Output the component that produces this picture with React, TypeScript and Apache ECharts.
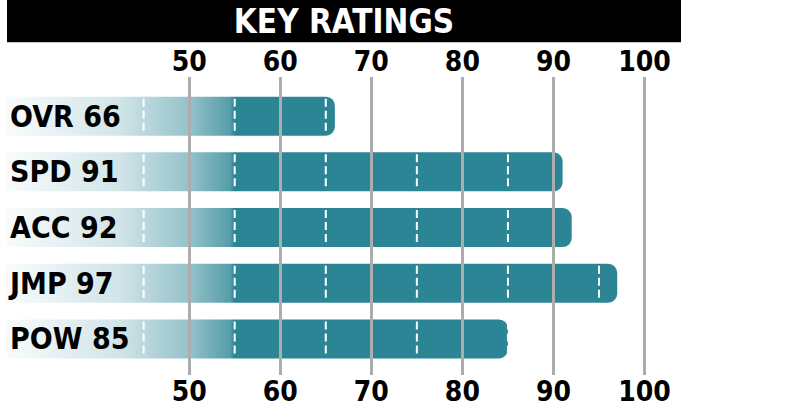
import React, { useEffect, useRef } from "react";
import * as echarts from "echarts";

const TITLE = "KEY RATINGS";
const categories = ["OVR", "SPD", "ACC", "JMP", "POW"];
const ratings = [66, 91, 92, 97, 85];
const tickValues = [50, 60, 70, 80, 90, 100];
const dashValues = [45, 55, 65, 75, 85, 95];
const X_MIN = 30;
const X_MAX = 104;
const GRAD_END = 55;

const TEAL = [43, 133, 149];
const FONT = "DejaVu Sans Condensed";

export default function App() {
  const ref = useRef<HTMLDivElement>(null);

  useEffect(() => {
    if (!ref.current) return;
    const chart = echarts.init(ref.current, null, { renderer: "svg" });
    const labels = categories.map((c, i) => `${c} ${ratings[i]}`);
    const rgba = (a: number) => `rgba(${TEAL[0]},${TEAL[1]},${TEAL[2]},${a})`;
    const stops = [
      { offset: 0, color: rgba(0.03) },
      { offset: 0.5, color: rgba(0.22) },
      { offset: 0.6, color: rgba(0.32) },
      { offset: 0.8, color: rgba(0.5) },
      { offset: 0.98, color: rgba(0.8) },
      { offset: 1, color: rgba(1) },
    ];

    const tickAxisCommon = {
      type: "value",
      gridIndex: 0,
      min: X_MIN,
      max: X_MAX,
      axisLine: { show: false },
      axisTick: { show: false, customValues: tickValues },
      axisLabel: {
        customValues: tickValues,
        color: "#000",
        fontFamily: FONT,
        fontWeight: "bold",
        fontSize: 28,
        verticalAlign: "middle",
        margin: 16,
      },
    };

    chart.setOption({
      animation: false,
      backgroundColor: "#fff",
      grid: [
        { left: 7, width: 674, top: 77, height: 298 },
        { left: 7, width: 674, top: 88.3, height: 278.5 },
      ],
      xAxis: [
        {
          ...tickAxisCommon,
          position: "top",
          z: 5,
          splitLine: { show: true, lineStyle: { color: "#adadb0", width: 3 } },
        },
        {
          ...tickAxisCommon,
          position: "bottom",
          z: 5,
          splitLine: { show: false },
        },
        { type: "value", gridIndex: 1, min: X_MIN, max: X_MAX, show: false },
      ],
      yAxis: [
        { type: "value", gridIndex: 0, show: false },
        {
          type: "category",
          gridIndex: 1,
          data: labels,
          inverse: true,
          z: 6,
          axisLine: { show: false },
          axisTick: { show: false },
          splitLine: { show: false },
          axisLabel: {
            inside: true,
            margin: 3,
            color: "#000",
            fontFamily: FONT,
            fontWeight: "bold",
            fontSize: 30,
          },
        },
      ],
      graphic: [
        { type: "rect", shape: { x: 7, y: 0, width: 674, height: 42 }, style: { fill: "#000" }, z: 10 },
        { type: "rect", shape: { x: 7, y: 42, width: 674, height: 1 }, style: { fill: "#c4c4c4" }, z: 10 },
        {
          type: "text",
          x: 344,
          y: 21,
          z: 11,
          style: {
            text: TITLE,
            fill: "#fff",
            font: `bold 33px "${FONT}"`,
            textAlign: "center",
            textVerticalAlign: "middle",
          },
        },
      ],
      series: [
        {
          type: "custom",
          xAxisIndex: 2,
          yAxisIndex: 1,
          z: 2,
          clip: false,
          encode: { x: 0, y: 1 },
          data: ratings.map((v, i) => [v, i]),
          renderItem: (params: any, api: any) => {
            const v = api.value(0);
            const idx = api.value(1);
            const start = api.coord([X_MIN, idx]);
            const end = api.coord([v, idx]);
            const gEnd = api.coord([GRAD_END, idx])[0];
            const h = api.size([0, 1])[1] * 0.7;
            const yc = start[1];
            const top = yc - h / 2;
            const fill = new echarts.graphic.LinearGradient(start[0], yc, gEnd, yc, stops, true);
            const children: any[] = [
              {
                type: "rect",
                shape: { x: start[0], y: top, width: end[0] - start[0], height: h, r: [0, 9, 9, 0] },
                style: { fill },
              },
            ];
            dashValues.forEach((d) => {
              if (d <= v) {
                const xd = api.coord([d, idx])[0];
                children.push({
                  type: "line",
                  shape: { x1: xd, y1: top + 2, x2: xd, y2: top + h - 2 },
                  style: { stroke: "#fff", lineWidth: 2, lineDash: [8, 4] },
                });
              }
            });
            return { type: "group", children };
          },
        },
      ],
    });
    return () => chart.dispose();
  }, []);

  return (
    <div
      ref={ref}
      style={{ position: "fixed", left: 0, top: 0, width: 785, height: 415, background: "#fff" }}
    />
  );
}
